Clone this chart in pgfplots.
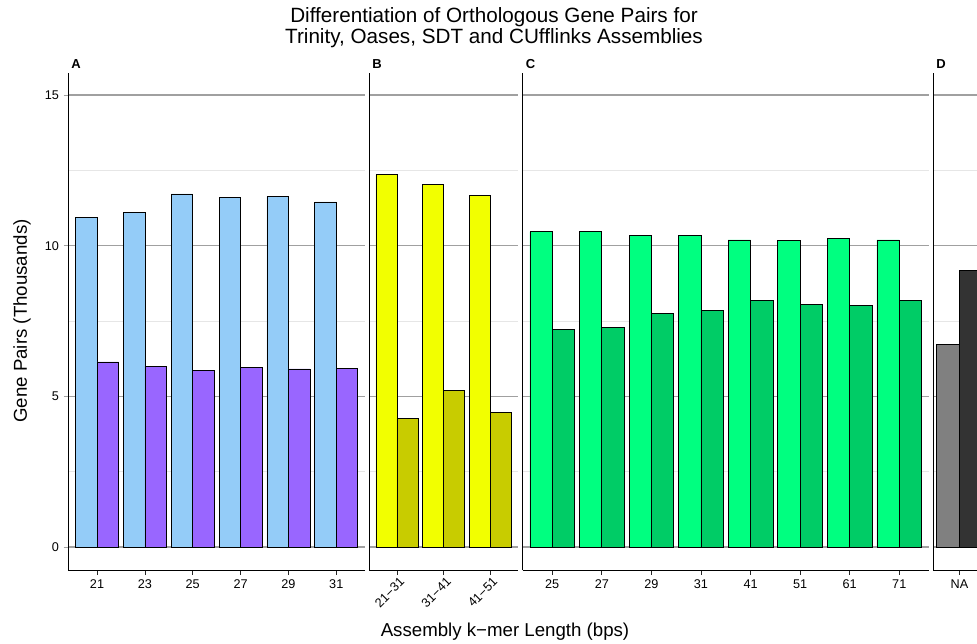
\documentclass[border=0pt]{standalone}
\usepackage{pgfplots}
\pgfplotsset{compat=1.18}
\usepackage{fontspec}
\setmainfont{Liberation Sans}
\definecolor{cAa}{HTML}{94CCF8}
\definecolor{cAb}{HTML}{9966FF}
\definecolor{cBa}{HTML}{F2FF00}
\definecolor{cBb}{HTML}{C8CC00}
\definecolor{cCa}{HTML}{00FF80}
\definecolor{cCb}{HTML}{00CC66}
\definecolor{cDa}{HTML}{808080}
\definecolor{cDb}{HTML}{333333}
\definecolor{gridmaj}{HTML}{A0A0A0}
\definecolor{gridmin}{HTML}{E6E6E6}
\pgfplotsset{panel/.style={
  scale only axis, height=372.975pt, ymin=-0.763, ymax=15.74,
  xmin=0.4,
  axis lines*=left, axis line style={black, line width=0.6pt},
  ytick={0,5,10,15}, minor ytick={2.5,7.5,12.5},
  ymajorgrids, yminorgrids,
  major grid style={color=gridmaj, line width=0.8pt},
  minor grid style={color=gridmin, line width=0.6pt},
  tick align=outside, major tick length=3.5pt, minor tick length=0pt,
  xtick style={color=black!85, line width=0.5pt},
  ticklabel style={font=\fontsize{9.5}{11}\selectfont},
  /pgf/number format/assume math mode=true,
  anchor=south west,
},
noy/.style={yticklabels={}, ytick style={draw=none}},
bA/.style={ybar, bar shift=0pt, bar width=0.45, draw=black, line width=0.5pt},
}
\begin{document}
\begin{tikzpicture}
\path[use as bounding box] (0,0) rectangle (977*0.75pt,-643*0.75pt);
\clip (0,0) rectangle (977*0.75pt,-643*0.75pt);
% Panel A
\begin{axis}[panel, at={(68.3*0.75pt,-570*0.75pt)}, width=296.7*0.75pt, xmax=6.6,
  xtick={1,2,3,4,5,6}, xticklabels={21,23,25,27,29,31},
  ytick style={color=gridmaj, line width=0.6pt}]
\addplot[bA, fill=cAa] coordinates {(0.775,10.95) (1.775,11.10) (2.775,11.72) (3.775,11.60) (4.775,11.63) (5.775,11.45)};
\addplot[bA, fill=cAb] coordinates {(1.225,6.14) (2.225,6.00) (3.225,5.87) (4.225,5.97) (5.225,5.91) (6.225,5.93)};
\end{axis}
% Panel B
\begin{axis}[panel, noy, at={(369*0.75pt,-570*0.75pt)}, width=149*0.75pt, xmax=3.6,
  xtick={1,2,3}, xticklabels={21−31,31−41,41−51},
  xticklabel style={yshift=3.5pt, xshift=1.5pt, rotate=45, anchor=north east}]
\addplot[bA, fill=cBa] coordinates {(0.775,12.36) (1.775,12.03) (2.775,11.68)};
\addplot[bA, fill=cBb] coordinates {(1.225,4.27) (2.225,5.20) (3.225,4.46)};
\end{axis}
% Panel C
\begin{axis}[panel, noy, at={(522.5*0.75pt,-570*0.75pt)}, width=406.5*0.75pt, xmax=8.6,
  xtick={1,2,3,4,5,6,7,8}, xticklabels={25,27,29,31,41,51,61,71}]
\addplot[bA, fill=cCa] coordinates {(0.775,10.46) (1.775,10.48) (2.775,10.35) (3.775,10.35) (4.775,10.19) (5.775,10.18) (6.775,10.25) (7.775,10.19)};
\addplot[bA, fill=cCb] coordinates {(1.225,7.23) (2.225,7.29) (3.225,7.76) (4.225,7.86) (5.225,8.19) (6.225,8.04) (7.225,8.02) (8.225,8.19)};
\end{axis}
% Panel D
\begin{axis}[panel, noy, at={(933*0.75pt,-570*0.75pt)}, width=53*0.75pt, xmax=1.6,
  xtick={1}, xticklabels={NA}]
\addplot[bA, bar width=0.53, fill=cDa] coordinates {(0.735,6.72)};
\addplot[bA, bar width=0.53, fill=cDb] coordinates {(1.265,9.17)};
\end{axis}
% texts
\node[anchor=base, font=\fontsize{15.5}{18}\selectfont] at (494*0.75pt,-22.7*0.75pt) {Differentiation of Orthologous Gene Pairs for};
\node[anchor=base, font=\fontsize{15.5}{18}\selectfont] at (494*0.75pt,-43.3*0.75pt) {Trinity, Oases, SDT and CUfflinks Assemblies};
\node[anchor=base, font=\fontsize{14}{16}\selectfont] at (505*0.75pt,-636*0.75pt) {Assembly k−mer Length (bps)};
\node[rotate=90, font=\fontsize{14}{16}\selectfont] at (22*0.75pt,-321*0.75pt) {Gene Pairs (Thousands)};
\node[anchor=base west, inner sep=0pt, font=\bfseries\fontsize{9.75}{11}\selectfont] at (71*0.75pt,-68*0.75pt) {A};
\node[anchor=base west, inner sep=0pt, font=\bfseries\fontsize{9.75}{11}\selectfont] at (372*0.75pt,-68*0.75pt) {B};
\node[anchor=base west, inner sep=0pt, font=\bfseries\fontsize{9.75}{11}\selectfont] at (525.5*0.75pt,-68*0.75pt) {C};
\node[anchor=base west, inner sep=0pt, font=\bfseries\fontsize{9.75}{11}\selectfont] at (936*0.75pt,-68*0.75pt) {D};
\end{tikzpicture}
\end{document}
